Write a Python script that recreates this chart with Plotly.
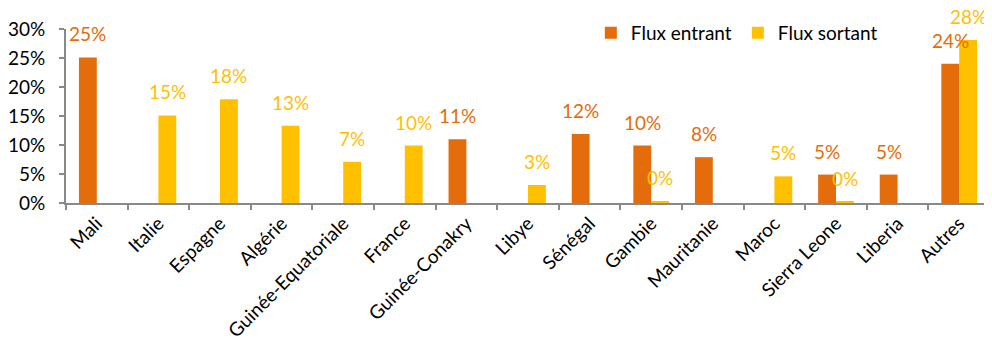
import plotly.graph_objects as go

categories = ["Mali", "Italie", "Espagne", "Algérie", "Guinée-Equatoriale", "France",
              "Guinée-Conakry", "Libye", "Sénégal", "Gambie", "Mauritanie", "Maroc",
              "Sierra Leone", "Liberia", "Autres"]
flux_entrant = [25.1, None, None, None, None, None, 11.0, None, 11.9, 9.9, 7.9, None, 4.9, 4.9, 24.0]
flux_sortant = [None, 15.1, 17.9, 13.3, 7.1, 9.9, None, 3.1, None, 0.3, None, 4.6, 0.2, None, 28.1]
y_ticks = [0, 5, 10, 15, 20, 25, 30]

ORANGE = "#E46C0A"
YELLOW = "#FFC000"
AXIS = "#898989"
FONT = "Lato"
FS = 19

# page body has an 8px margin; figure is sized/margined to compensate
W, H = 984, 337
ML, MR, MT, MB = 58, 2, 21, 142
BARGAP = 0.42
cat_px = (W - ML - MR) / len(categories)
bar_px = cat_px * (1 - BARGAP) / 2

fig = go.Figure()
annotations = []
for k, (name, vals, col) in enumerate([("Flux entrant", flux_entrant, ORANGE),
                                       ("Flux sortant", flux_sortant, YELLOW)]):
    fig.add_trace(go.Bar(
        x=categories, y=vals, name=name,
        marker=dict(color=col, line=dict(width=0)),
    ))
    shift = (k - 0.5) * bar_px
    for c, v in zip(categories, vals):
        if v is None:
            continue
        annotations.append(dict(
            x=c, y=v, xref="x", yref="y", text=f"{round(v)}%", showarrow=False,
            xanchor="center", yanchor="bottom", xshift=shift, yshift=10,
            font=dict(color=col, size=FS, family=FONT),
        ))

fig.update_layout(
    width=W, height=H,
    margin=dict(l=ML, r=MR, t=MT, b=MB),
    paper_bgcolor="white", plot_bgcolor="white",
    barmode="group", bargap=BARGAP, bargroupgap=0,
    font=dict(family=FONT, size=FS, color="black"),
    showlegend=True,
    annotations=annotations,
    legend=dict(orientation="h", x=0.568, y=0.977, xanchor="left", yanchor="middle",
                font=dict(size=FS, family=FONT, color="black"), bgcolor="rgba(0,0,0,0)",
                traceorder="normal", entrywidth=102, entrywidthmode="pixels"),
    xaxis=dict(showline=True, linecolor=AXIS, linewidth=2, ticks="outside",
               tickson="boundaries", ticklen=5, tickcolor=AXIS, tickwidth=2,
               tickangle=-45, showgrid=False, tickfont=dict(size=19), automargin=False),
    yaxis=dict(range=[0, 30], tickvals=y_ticks, ticktext=[f"{v}%" for v in y_ticks],
               showline=True, linecolor=AXIS, linewidth=2, ticks="outside", ticklen=5,
               tickcolor=AXIS, tickwidth=2, showgrid=False, zeroline=False,
               ticklabelstandoff=10, tickfont=dict(size=FS), automargin=False),
)

fig.write_html("out.html")
